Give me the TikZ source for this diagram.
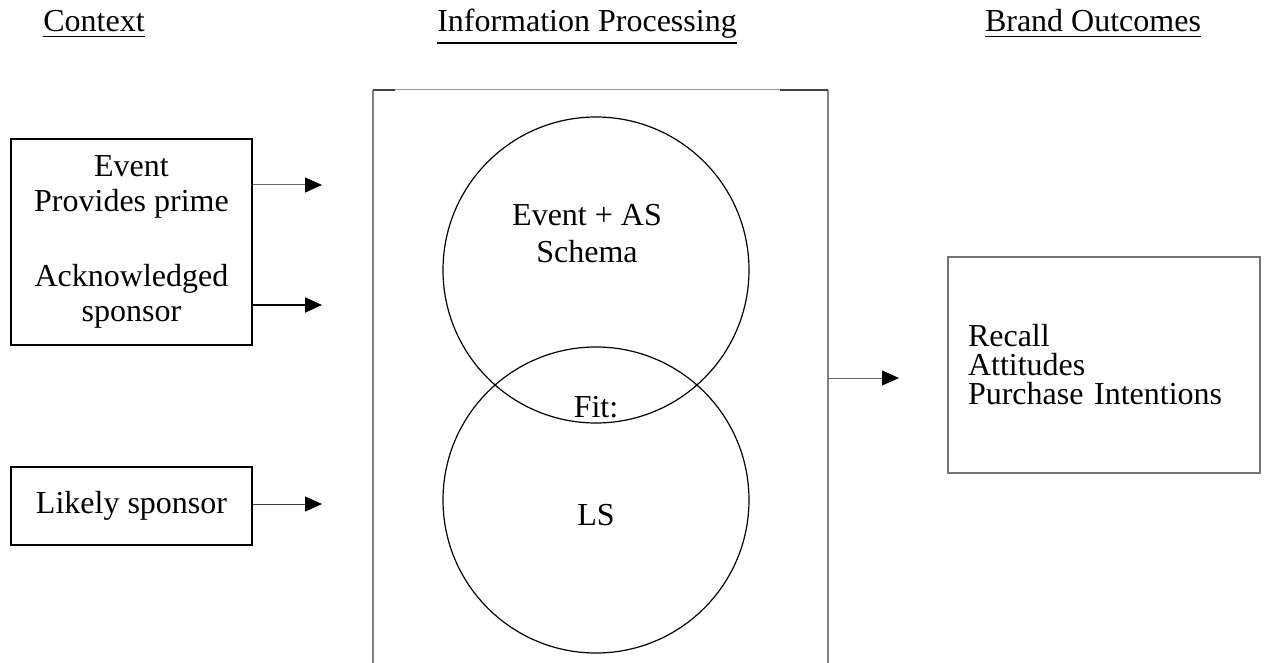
\documentclass[tikz,border=0pt]{standalone}
\usepackage{fontspec}
\setmainfont{Liberation Serif}
\usetikzlibrary{arrows.meta}

\newcommand{\ulhead}[1]{\vtop{\hbox{#1}\kern1.6pt\hrule height 0.9pt}}

\begin{document}
\begin{tikzpicture}[x=0.5pt, y=-0.5pt,
    every node/.style={font=\fontsize{16}{17.5}\selectfont, inner sep=0pt},
    head/.style={anchor=base},
    ctxbox/.style={draw, rectangle, line width=1pt, align=center,
                   minimum width=120.5pt},
    ring/.style={draw, circle, line width=0.6pt, minimum size=153pt},
    feed/.style={-{Triangle[length=8.5pt, width=7.5pt, color=black]}},
    ]
    \useasboundingbox (0,0) rectangle (1264,663);

    % column headings
    \node[head] (ctx) at (94,32) {\ulhead{Context}};
    \node[head] (info) at (587,32) {\ulhead{Information Processing}};
    \node[head] (brand) at (1093,32) {\ulhead{Brand Outcomes}};

    % processing frame (open at the bottom)
    \coordinate (pTL) at (373,90);
    \coordinate (pTR) at (828,90);
    \coordinate (pBL) at (373,663);
    \coordinate (pBR) at (828,663);
    \draw[black!50, line width=1pt] (pBL) -- (pTL);
    \draw[black!40, line width=0.5pt] (pTL) -- (pTR);
    \draw[black!50, line width=1pt] (pTR) -- (pBR);
    \draw[black!75, line width=0.75pt] (pTL) -- ++(22,0);
    \draw[black!75, line width=0.75pt] (pTR) -- ++(-48,0);

    \node[ring] (schema) at (596,270) {};
    \node[ring] (ls) at (596,500) {};
    \node[align=center, font=\fontsize{16}{18.5}\selectfont]
        (schematxt) at (587,234) {Event + AS\\Schema};
    \node (fit) at (596,407) {Fit:};
    \node (lstxt) at (596,515) {LS};

    % context boxes
    \node[ctxbox, minimum height=103pt]
        (prime) at (131.5,242) {Event\\Provides prime\\[20pt]Acknowledged\\sponsor};
    \node[ctxbox, minimum height=39pt]
        (likely) at (131.5,506) {Likely sponsor};

    \coordinate (in1) at (322,185);
    \coordinate (in2) at (322,305);
    \coordinate (in3) at (322,504);
    \path[draw, feed, black!60, line width=0.5pt] (prime.east |- in1) -- (in1);
    \path[draw, feed, line width=1pt] (prime.east |- in2) -- (in2);
    \path[draw, feed, black!75, line width=0.5pt] (likely.east |- in3) -- (in3);

    % outcomes
    \coordinate (out) at (899,378);
    \path[draw, feed, black!60, line width=0.5pt] (pTR |- out) -- (out);

    \node[draw=black!55, line width=0.75pt, align=left,
          inner xsep=10pt, text width=136pt, minimum height=108pt,
          font=\fontsize{16}{14.5}\selectfont]
        (outcomes) at (1104,365) {Recall\\Attitudes\\Purchase Intentions};
\end{tikzpicture}
\end{document}
